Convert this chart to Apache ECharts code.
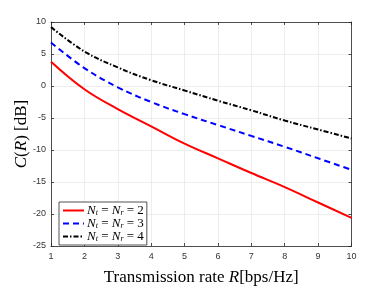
<!DOCTYPE html>
<html><head><meta charset="utf-8">
<script src="https://cdn.jsdelivr.net/npm/echarts@6/dist/echarts.min.js"></script>
<style>html,body{margin:0;padding:0;background:#fff}#c{width:388px;height:291px}</style>
</head><body><div id="c"></div>
<script>
var rates = [1, 2, 3, 4, 5, 6, 7, 8, 9, 10];
var cap2 = [3.8, -0.5, -3.6, -6.3, -9.0, -11.3, -13.6, -15.8, -18.2, -20.6];
var cap3 = [6.8, 2.8, -0.2, -2.5, -4.4, -6.1, -7.8, -9.5, -11.3, -13.1];
var cap4 = [9.2, 5.4, 2.9, 0.9, -0.7, -2.3, -3.8, -5.4, -6.8, -8.2];
var xTicks = [1, 2, 3, 4, 5, 6, 7, 8, 9, 10];
var yTicks = [-25, -20, -15, -10, -5, 0, 5, 10];
var names = ['2', '3', '4'];

function pairs(ys){ return rates.map(function(r,i){ return [r, ys[i]]; }); }
function legName(k){ return '{n|N}{s|t}{e| = }{n|N}{s|r}{e| = ' + k + '}'; }

var chart = echarts.init(document.getElementById('c'), null, {renderer:'canvas'});
var tickFont = {fontFamily:'Liberation Sans, Arial, sans-serif', fontSize:9, color:'#333'};
var axLine = {show:true, onZero:false, lineStyle:{color:'#262626', width:0.8}};
var tick = {show:true, inside:true, length:3, lineStyle:{color:'#262626', width:0.8}};
chart.setOption({
  animation:false,
  grid: {left:51, right:36.5, top:22, bottom:37, containLabel:false},
  legend: {
    left:59, top:202, orient:'vertical', itemWidth:21, itemHeight:10, itemGap:0,
    padding:[2,3,2,3], backgroundColor:'#fff', borderColor:'#262626', borderWidth:0.8,
    itemStyle:{opacity:0},
    textStyle:{
      padding:[0,0,0,-2],
      rich:{
        n:{fontFamily:'Liberation Serif, serif', fontStyle:'italic', fontSize:13, color:'#000', lineHeight:13},
        s:{fontFamily:'Liberation Serif, serif', fontStyle:'italic', fontSize:8, color:'#000', padding:[5,0,0,0], lineHeight:8},
        e:{fontFamily:'Liberation Serif, serif', fontSize:13, color:'#000', lineHeight:13}
      }
    },
    data: names.map(function(k){ return legName(k); })
  },
  xAxis: [{
    type:'value', min:1, max:10, interval:1, position:'bottom',
    axisLine:axLine, axisTick:tick,
    axisLabel:Object.assign({margin:6}, tickFont),
    splitLine:{show:true, lineStyle:{color:'#e8e8e8', width:0.8}},
    name:'{t|Transmission rate }{i|R}{t|[bps/Hz]}', nameLocation:'middle', nameGap:23,
    nameTextStyle:{rich:{
      t:{fontFamily:'Liberation Serif, serif', fontSize:17, color:'#000'},
      i:{fontFamily:'Liberation Serif, serif', fontSize:17, fontStyle:'italic', color:'#000'}
    }}
  },{
    type:'value', min:1, max:10, interval:1, position:'top',
    axisLine:axLine, axisTick:tick,
    axisLabel:{show:false}, splitLine:{show:false}
  }],
  yAxis: [{
    type:'value', min:-25, max:10, interval:5, position:'left',
    axisLine:axLine, axisTick:tick,
    axisLabel:Object.assign({margin:5}, tickFont),
    splitLine:{show:true, lineStyle:{color:'#e8e8e8', width:0.8}},
    name:'{i|C}{t|(}{i|R}{t|) [dB]}', nameLocation:'middle', nameGap:21, nameRotate:90,
    nameMoveOverlap:false,
    nameTextStyle:{rich:{
      t:{fontFamily:'Liberation Serif, serif', fontSize:17, color:'#000'},
      i:{fontFamily:'Liberation Serif, serif', fontSize:17, fontStyle:'italic', color:'#000'}
    }}
  },{
    type:'value', min:-25, max:10, interval:5, position:'right',
    axisLine:axLine, axisTick:tick,
    axisLabel:{show:false}, splitLine:{show:false}
  }],
  series: [
    {name:legName('2'), type:'line', data:pairs(cap2), smooth:0.4, symbol:'none',
     lineStyle:{color:'#ff0000', width:2, type:'solid'}, itemStyle:{color:'#ff0000'}},
    {name:legName('3'), type:'line', data:pairs(cap3), smooth:0.4, symbol:'none',
     lineStyle:{color:'#0000ff', width:2, type:[6,4]}, itemStyle:{color:'#0000ff'}},
    {name:legName('4'), type:'line', data:pairs(cap4), smooth:0.4, symbol:'none',
     lineStyle:{color:'#000000', width:2, type:[5,2,1.5,2]}, itemStyle:{color:'#000000'}}
  ]
});
</script></body></html>
